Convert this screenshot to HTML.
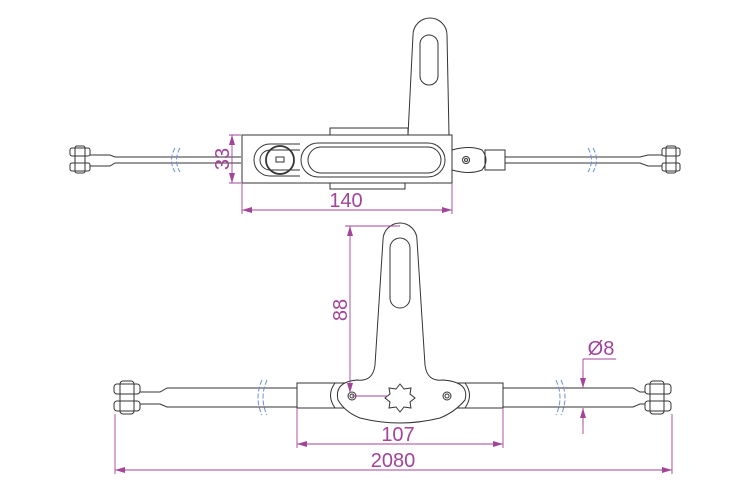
<!DOCTYPE html>
<html><head><meta charset="utf-8"><style>body{margin:0;background:#fff}svg{display:block}</style></head><body>
<svg width="750" height="500" viewBox="0 0 750 500" xmlns="http://www.w3.org/2000/svg" font-family="Liberation Sans, sans-serif">
<defs>
<marker id="a" viewBox="0 0 10 6" refX="10" refY="3" markerWidth="10" markerHeight="6" orient="auto-start-reverse" markerUnits="userSpaceOnUse"><path d="M0,0L10,3L0,6z" fill="#a3449a"/></marker>
</defs>
<g fill="none" stroke="#333" stroke-width="1">
<!-- TOP VIEW -->
<path d="M90,155 L110,155 L115,157 L241,157 M90,166 L110,166 L115,163 L241,163"/>
<rect x="70" y="148" width="20" height="8" rx="2" fill="#fff"/>
<rect x="70" y="163" width="20" height="8" rx="2" fill="#fff"/>
<rect x="75" y="146" width="10" height="27" rx="2"/>
<path d="M505,157 L640,157 L648,155 L665,155 M505,163 L640,163 L648,166 L665,166"/>
<rect x="662" y="148" width="18" height="8" rx="2" fill="#fff"/>
<rect x="662" y="163" width="18" height="8" rx="2" fill="#fff"/>
<rect x="666" y="146" width="10" height="27" rx="2"/>
<rect x="485" y="150" width="20" height="20"/>
<path d="M452,150 Q470,145 482,150 Q490,160 482,170 Q470,175 452,170"/>
<circle cx="466" cy="160" r="3.5"/><circle cx="466" cy="160" r="1.5"/>
<rect x="330" y="128" width="78" height="7"/>
<rect x="330" y="183" width="75" height="6"/>
<path d="M408,135 L413,35 A13,13 0 0 1 447,35 L449,135"/>
<rect x="420" y="35" width="18" height="50" rx="9"/>
<rect x="242" y="135" width="210" height="48" fill="#fff"/>
<path d="M300,144 L270,144 A16,16 0 0 0 270,176 L300,176"/>
<path d="M300,150 L270,150 A10,10 0 0 0 270,170 L300,170"/>
<circle cx="280" cy="160" r="14" stroke-width="1.8"/>
<rect x="276" y="157" width="8" height="5"/>
<rect x="301" y="143" width="144" height="34" rx="17"/>
<rect x="308" y="147" width="133" height="26" rx="13"/>
<!-- BOTTOM VIEW -->
<path d="M140,392 L160,392 L167,388 L297,388 M140,404 L160,404 L167,407 L297,407"/>
<rect x="114" y="384" width="26" height="10" rx="3" fill="#fff"/>
<rect x="114" y="401" width="26" height="10" rx="3" fill="#fff"/>
<rect x="120" y="381" width="14" height="33" rx="3"/>
<path d="M503,388 L633,388 L640,392 L660,392 M503,407 L633,407 L640,404 L660,404"/>
<rect x="645" y="384" width="26" height="10" rx="3" fill="#fff"/>
<rect x="645" y="401" width="26" height="10" rx="3" fill="#fff"/>
<rect x="650" y="381" width="14" height="33" rx="3"/>
<rect x="297" y="383" width="206" height="25"/>
<path d="M335,383 Q326,395 335,408 M465,383 Q474,395 465,408"/>
<path d="M357,380 Q373,382 375,365 L383,240 A17,17 0 0 1 417,240 L425,365 Q427,382 443,380 Q470,382 465,400 Q455,412 440,418 Q400,428 360,418 Q345,412 338,400 Q334,382 357,380 Z" fill="#fff"/>
<rect x="390" y="238" width="20" height="70" rx="10"/>
<path d="M400,384 L404,389 L411,388 L410,394 L415,398 L410,402 L411,408 L404,407 L400,412 L396,407 L389,408 L390,402 L385,398 L390,394 L389,388 L396,389 Z"/>
<circle cx="352" cy="396" r="4"/><circle cx="352" cy="396" r="2"/>
<circle cx="447" cy="396" r="4"/><circle cx="447" cy="396" r="2"/>
</g>
<!-- break marks -->
<g fill="none" stroke="#6f8fd6" stroke-width="1" stroke-dasharray="5,2">
<path d="M175,148 Q168,160 175,172 M180,148 Q173,160 180,172"/>
<path d="M588,148 Q595,160 588,172 M593,148 Q600,160 593,172"/>
<path d="M262,380 Q254,398 262,415 M267,380 Q259,398 267,415"/>
<path d="M556,380 Q564,398 556,415 M561,380 Q569,398 561,415"/>
</g>
<!-- dimensions -->
<g stroke="#a3449a" stroke-width="0.9" fill="none">
<path d="M229,135 L241,135 M229,183 L241,183"/>
<line x1="232" y1="135" x2="232" y2="183" marker-start="url(#a)" marker-end="url(#a)"/>
<path d="M242,183 L242,214 M452,183 L452,214"/>
<line x1="242" y1="210" x2="452" y2="210" marker-start="url(#a)" marker-end="url(#a)"/>
<path d="M345,226 L400,226"/>
<line x1="350" y1="226" x2="350" y2="393" marker-start="url(#a)" marker-end="url(#a)"/>
<path d="M352,396 L388,396"/>
<path d="M297,408 L297,448 M503,408 L503,448"/>
<line x1="297" y1="444" x2="503" y2="444" marker-start="url(#a)" marker-end="url(#a)"/>
<path d="M115,414 L115,474 M672,414 L672,474"/>
<line x1="115" y1="470" x2="672" y2="470" marker-start="url(#a)" marker-end="url(#a)"/>
<path d="M583,359 L616,359 M583,359 L583,388 M583,408 L583,434"/>
<line x1="583" y1="370" x2="583" y2="388" marker-end="url(#a)"/>
<line x1="583" y1="425" x2="583" y2="408" marker-end="url(#a)"/>
</g>
<g fill="#a3449a" font-size="20">
<text x="346" y="207" text-anchor="middle">140</text>
<text x="398" y="441" text-anchor="middle">107</text>
<text x="393" y="467" text-anchor="middle">2080</text>
<text x="601" y="355" text-anchor="middle">Ø8</text>
<text transform="translate(229,159) rotate(-90)" text-anchor="middle">33</text>
<text transform="translate(347,310) rotate(-90)" text-anchor="middle">88</text>
</g>
</svg>
</body></html>
